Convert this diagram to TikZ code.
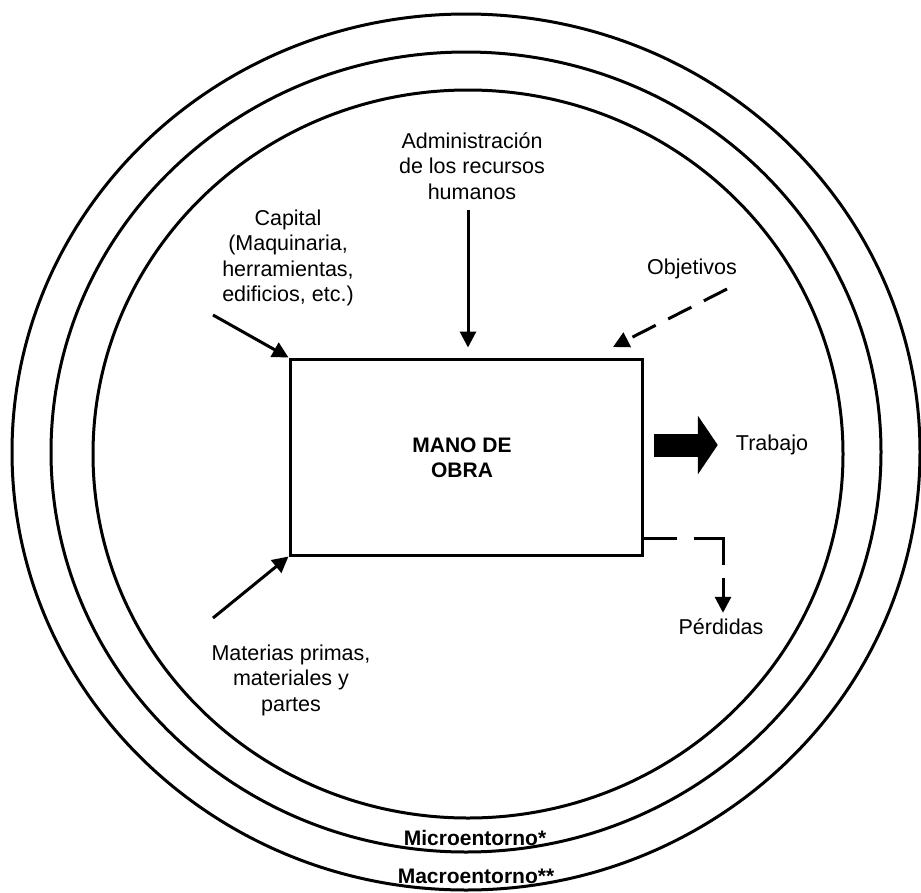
\documentclass[tikz,border=0pt]{standalone}
\usepackage{fontspec}
\setmainfont{Liberation Sans}
\usetikzlibrary{arrows.meta,calc}
\begin{document}
\begin{tikzpicture}[x=1pt,y=-1pt,
  ring/.style={line width=3pt},
  lbl/.style={align=center, inner sep=0pt, font=\fontsize{21.5}{25.5}\selectfont},
  blbl/.style={align=center, inner sep=0pt, font=\fontsize{21}{25}\selectfont\bfseries},
  arr/.style={line width=3pt, -{Triangle[length=16pt,width=16pt]}},
  dasharr/.style={arr, dash pattern=on 26pt off 14pt},
  bigarr/.style={line width=23pt, -{Triangle[length=20pt,width=58pt]}}
]
\useasboundingbox (0,0) rectangle (921,892);

% environment rings
\draw[ring] (466,452) ellipse [x radius=454, y radius=438];
\draw[ring] (466,452) ellipse [x radius=415, y radius=400];
\draw[ring] (468,454) ellipse [x radius=375, y radius=364];

% central box
\node[draw, line width=3pt, minimum width=352pt, minimum height=196pt,
      inner sep=0pt] (box) at (466,457) {};
\node[blbl] (mano) at (462,458) {MANO DE\\OBRA};

% inputs and outputs
\node[lbl] (admin) at (472,166) {Administración\\de los recursos\\humanos};
\node[lbl] (cap) at (288,258) {Capital\\(Maquinaria,\\herramientas,\\edificios, etc.)};
\node[lbl] (obj) at (692,269) {Objetivos};
\node[lbl] (trab) at (772,445) {Trabajo};
\node[lbl] (perd) at (721,627) {Pérdidas};
\node[lbl] (mat) at (291,680) {Materias primas,\\materiales y\\partes};

% ring labels
\node[blbl] (micro) at (475,838) {Microentorno*};
\node[blbl] (macro) at (476,876) {Macroentorno**};

% connectors
\coordinate (capS) at (213,315);
\coordinate (matS) at (213,618);
\coordinate (objS) at (727,289);
\coordinate (objE) at (613,347);

\draw[arr] (capS) -- (box.north west);
\draw[arr] (matS) -- (box.south west);
\draw[arr] ($(admin.south)+(-4,10)$) -- ($(admin.south |- box.north)+(-4,-10)$);
\draw[dasharr] (objS) -- (objE);
\draw[bigarr] ($(box.east |- trab.west)+(10,0)$) -- ($(trab.west)+(-18,0)$);
\draw[arr, dash pattern=on 33pt off 17pt on 56pt off 13pt on 60pt]
  ($(box.south east)+(0,-18)$) -| ($(perd.north)+(2,-6)$);
\end{tikzpicture}
\end{document}
